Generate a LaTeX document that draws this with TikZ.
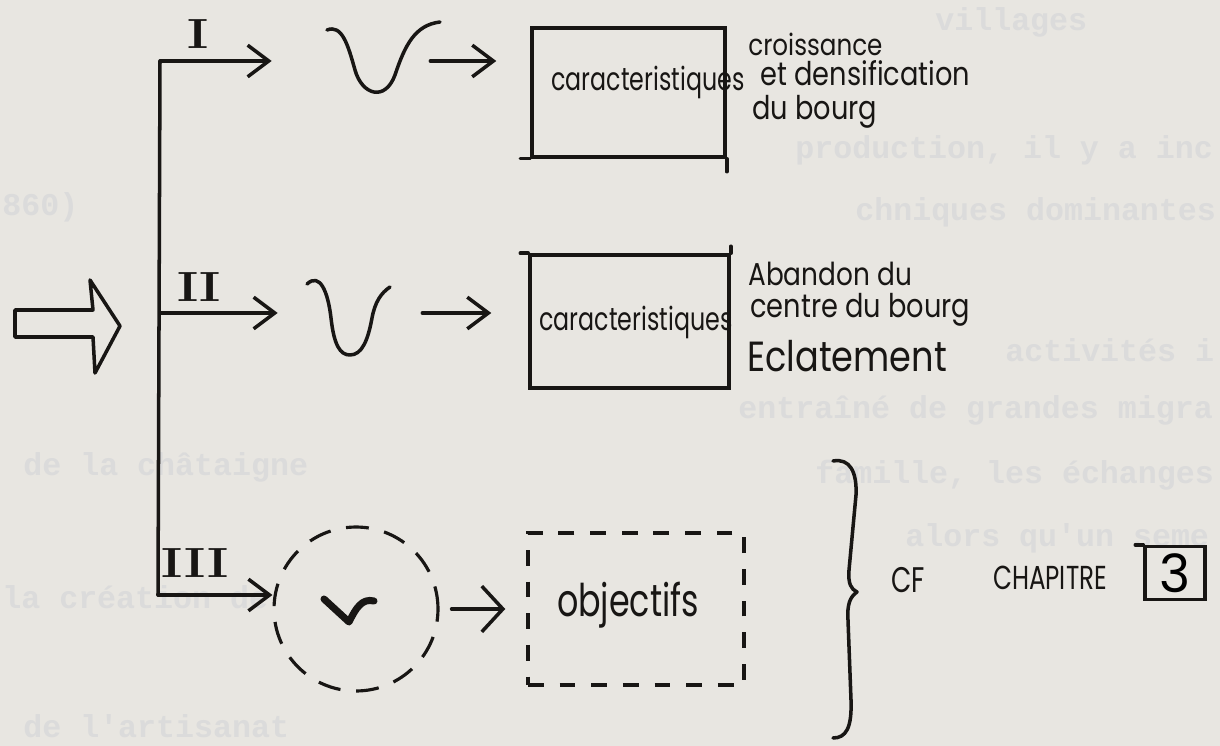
\documentclass[tikz,border=0pt]{standalone}
\usepackage{fontspec}
\newfontfamily\handfont{Poppins}
\newfontfamily\ghostfont{Liberation Mono}
\usetikzlibrary{arrows.meta, calc}
\definecolor{paper}{RGB}{232,230,225}
\definecolor{ink}{RGB}{24,22,20}
\newcommand{\handsize}[1]{\handfont\fontsize{#1}{#1}\selectfont}

\begin{document}
\begin{tikzpicture}[
        x=0.02cm, y=-0.02cm,
        >={Straight Barb[length=12pt, width=18pt]},
        pen/.style={draw=ink, line width=2pt, line cap=round, line join=round},
        hand/.style={text=ink, inner sep=0pt, yscale=1.35},
        note/.style={text=ink, inner sep=0pt, yscale=1.2, anchor=west},
        roman/.style={font=\fontsize{24}{24}\selectfont\bfseries, text=ink, inner sep=0pt, xscale=1.2},
        sheet/.style={draw=ink, line width=2pt, inner sep=0pt},
        ghost/.style={font=\ghostfont\fontsize{18}{18}\selectfont\bfseries, text=black!14, anchor=west, inner sep=0pt}
    ]
        % paper
        \fill[paper] (0,0) rectangle (1220,746);
        \useasboundingbox (0,0) rectangle (1220,746);

        % typed text showing through from the other side
        \node[ghost] (g1) at (2,207) {860)};
        \node[ghost] (g2) at (23,467) {de la châtaigne};
        \node[ghost] (g3) at (2,597) {la création de};
        \node[ghost] (g4) at (23,726) {de l'artisanat};
        \node[ghost] (g5) at (935,22) {villages};
        \node[ghost] (g6) at (795,150) {production, il y a inc};
        \node[ghost] (g7) at (855,212) {chniques dominantes};
        \node[ghost] (g8) at (1005,350) {activités i};
        \node[ghost] (g9) at (738,410) {entraîné de grandes migra};
        \node[ghost] (g10) at (815,475) {famille, les échanges};
        \node[ghost] (g11) at (905,538) {alors qu'un seme};

        % big hollow arrow
        \draw[pen] (15,310) -- (93,310) -- (90,280) -- (120,326) -- (95,373) -- (93,337) -- (15,337) -- cycle;

        % trunk
        \coordinate (top) at (160,61);
        \coordinate (mid) at (160,313);
        \coordinate (bot) at (158,595);
        \draw[pen] (top) -- (bot);

        % roman numerals
        \node[roman] (capI) at (198,34) {I};
        \node[roman] (capII) at (199,287) {II};
        \node[roman] (capIII) at (195,563) {III};

        % curves
        \node[inner sep=0pt, minimum width=3.16cm, minimum height=1.6cm] (vI) at (351,61) {};
        \node[inner sep=0pt, minimum width=2.88cm, minimum height=1.6cm] (vII) at (350,313) {};
        \node[draw=ink, line width=1.8pt, dash pattern=on 13pt off 9pt, circle, minimum size=3.28cm] (vIII) at (356,609) {};
        \draw[pen] (327,30) .. controls (342,24) and (348,45) .. (355,70) .. controls (362,95) and (385,102) .. (395,75) .. controls (405,45) and (415,25) .. (440,22);
        \draw[pen] (307,284) .. controls (320,272) and (328,292) .. (331,318) .. controls (334,345) and (340,355) .. (350,355) .. controls (362,355) and (368,340) .. (372,318) .. controls (375,302) and (381,293) .. (390,287);
        \draw[draw=ink, line width=4pt, line cap=round, line join=round] (324,599) -- (349,622) .. controls (356,608) and (362,598) .. (374,601);

        % boxes
        \node[sheet, minimum width=3.86cm, minimum height=2.58cm] (boxI) at (628.5,92.5) {};
        \node[sheet, minimum width=3.98cm, minimum height=2.66cm] (boxII) at (629.5,321.5) {};
        \node[sheet, dash pattern=on 9pt off 9pt, minimum width=4.32cm, minimum height=3.04cm] (boxIII) at (636,609) {};
        \draw[pen] (boxI.south west) -- ++(-10,0);
        \draw[pen] (boxI.south east) -- ++(0,13);
        \draw[pen] (boxII.north west) -- ++(-8,0);
        \draw[pen] (boxII.north east) -- ++(0,-7);
        \node[hand, font=\handsize{13.5}] (caracI) at (648,82) {caracteristiques};
        \node[hand, font=\handsize{13.5}] (caracII) at (636,322) {caracteristiques};
        \node[hand, font=\handsize{19}] (objectifs) at (628,605) {objectifs};

        % arrows
        \draw[pen, ->] (top) -- (vI.west);
        \draw[pen, ->] (mid) -- (vII.west);
        \draw[pen, ->] (bot) -- (bot -| vIII.west);
        \draw[pen, ->, shorten >=0.68cm] (vI.east) -- (vI.east -| boxI.west);
        \draw[pen, ->, shorten >=0.74cm] (vII.east) -- (vII.east -| boxII.west);
        \draw[pen, -{Straight Barb[length=12pt, width=26pt]}, shorten <=0.24cm, shorten >=0.42cm] (vIII.east) -- (vIII.east -| boxIII.west);

        % notes
        \node[note, font=\handsize{14}] (noteIa) at (748,44) {croissance};
        \node[note, font=\handsize{15.5}] (noteIb) at (760,73) {et densification};
        \node[note, font=\handsize{15.5}] (noteIc) at (752,112) {du bourg};
        \node[note, font=\handsize{15}] (noteIIa) at (748,274) {Abandon du};
        \node[note, font=\handsize{15.5}] (noteIIb) at (750,310) {centre du bourg};
        \node[note, font=\handsize{20}] (noteIIc) at (747,356) {Eclatement};

        % brace and reference
        \draw[pen] (833,461) .. controls (850,458) and (857,472) .. (856,495) -- (849,570) .. controls (848,584) and (851,589) .. (857,592) .. controls (850,597) and (847,604) .. (848,620) -- (851,700) .. controls (852,728) and (846,738) .. (833,738);
        \node[hand, font=\handsize{15}] (cf) at (908,580) {CF};
        \node[hand, font=\handsize{14}] (chapitre) at (1050,578) {CHAPITRE};
        \node[sheet, font=\handsize{30}, minimum width=1.2cm, minimum height=1.06cm] (chap) at (1175,573) {3};
        \draw[pen] (chap.north west) -- ++(-8,0);
\end{tikzpicture}
\end{document}
